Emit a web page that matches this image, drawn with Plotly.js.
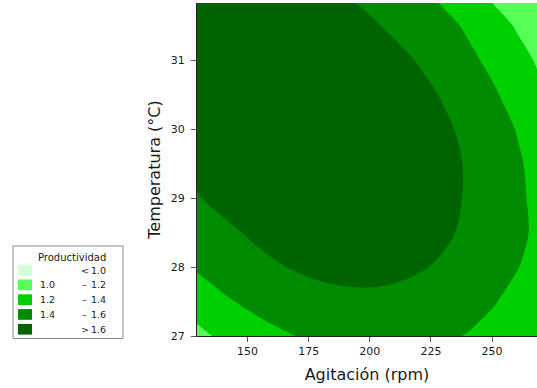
<!DOCTYPE html>
<html>
<head>
<meta charset="utf-8">
<script src="https://cdn.plot.ly/plotly-3.0.1.min.js"></script>
<style>
  html, body { margin: 0; padding: 0; background: #ffffff; }
  #chart { width: 537px; height: 388px; }
</style>
</head>
<body>
<div id="chart"></div>
<script>
// ---- Data ----
var agitacion = [129.3, 140, 150, 160, 170, 180, 190, 200, 210, 220, 230, 240, 250, 260, 270];
var temperatura = [27, 27.5, 28, 28.5, 29, 29.5, 30, 30.5, 31, 31.5, 32];
var productividad = [
  [1.151, 1.235, 1.302, 1.358, 1.402, 1.435, 1.456, 1.466, 1.465, 1.452, 1.428, 1.392, 1.345, 1.287, 1.217],
  [1.293, 1.371, 1.432, 1.482, 1.520, 1.547, 1.562, 1.566, 1.559, 1.540, 1.509, 1.468, 1.415, 1.350, 1.275],
  [1.420, 1.490, 1.540, 1.580, 1.614, 1.637, 1.649, 1.649, 1.637, 1.614, 1.580, 1.535, 1.478, 1.409, 1.329],
  [1.495, 1.560, 1.612, 1.654, 1.684, 1.703, 1.710, 1.706, 1.690, 1.663, 1.625, 1.575, 1.514, 1.442, 1.358],
  [1.589, 1.650, 1.695, 1.729, 1.751, 1.762, 1.761, 1.749, 1.726, 1.691, 1.645, 1.587, 1.518, 1.438, 1.346],
  [1.642, 1.697, 1.738, 1.767, 1.784, 1.790, 1.785, 1.768, 1.740, 1.700, 1.649, 1.587, 1.513, 1.428, 1.331],
  [1.675, 1.725, 1.760, 1.784, 1.796, 1.797, 1.787, 1.765, 1.731, 1.687, 1.631, 1.563, 1.484, 1.394, 1.292],
  [1.694, 1.738, 1.767, 1.784, 1.790, 1.785, 1.768, 1.740, 1.700, 1.649, 1.587, 1.513, 1.428, 1.331, 1.223],
  [1.684, 1.722, 1.745, 1.757, 1.758, 1.747, 1.725, 1.691, 1.646, 1.590, 1.522, 1.443, 1.360, 1.265, 1.170],
  [1.654, 1.686, 1.704, 1.710, 1.705, 1.689, 1.661, 1.622, 1.572, 1.510, 1.455, 1.375, 1.285, 1.185, 1.075],
  [1.622, 1.648, 1.660, 1.661, 1.651, 1.629, 1.596, 1.551, 1.495, 1.428, 1.349, 1.259, 1.157, 1.070, 0.990]
];
var contourLevels = [1.0, 1.2, 1.4, 1.6];
var xTicks = [150, 175, 200, 225, 250];
var yTicks = [27, 28, 29, 30, 31];
var legendTitle = 'Productividad';
var legendLow = ['', '1.0', '1.2', '1.4', ''];
var legendSym = ['<', '–', '–', '–', '>'];
var legendHigh = ['1.0', '1.2', '1.4', '1.6', '1.6'];

// ---- Styles ----
var bandColors = ['#d4ffd4', '#55ff55', '#00d000', '#008c00', '#006400'];
var FONT = 'DejaVu Sans, Verdana, sans-serif';
var TXT = '#1a1a1a';

var W = 537, H = 388;
var M = {l: 197, r: 0, t: 3, b: 52};
var plotW = W - M.l - M.r, plotH = H - M.t - M.b;
function px(x) { return (x - M.l) / plotW; }
function py(y) { return (H - M.b - y) / plotH; }

var cs = bandColors.map(function (c, i) { return [i / (bandColors.length - 1), c]; });

var trace = {
  type: 'contour',
  x: agitacion,
  y: temperatura,
  z: productividad,
  autocontour: false,
  contours: {
    start: contourLevels[0],
    end: contourLevels[contourLevels.length - 1],
    size: contourLevels[1] - contourLevels[0],
    coloring: 'fill',
    showlines: false
  },
  line: {width: 0, smoothing: 1},
  colorscale: cs,
  showscale: false,
  hoverinfo: 'skip'
};

// legend (Minitab style box)
var shapes = [];
var annotations = [];
shapes.push({type: 'rect', xref: 'paper', yref: 'paper',
  x0: px(13), x1: px(123), y0: py(338.5), y1: py(246),
  line: {color: '#8c8c8c', width: 1}, fillcolor: '#ffffff', layer: 'above'});
annotations.push({xref: 'paper', yref: 'paper', x: px(71.5), y: py(257),
  text: legendTitle, showarrow: false, xanchor: 'center', yanchor: 'middle',
  font: {family: FONT, size: 10, color: TXT}});
var rowFont = {family: FONT, size: 9.5, color: TXT};
for (var i = 0; i < legendSym.length; i++) {
  var rowTop = 264.7 + i * 14.8;
  var rowMid = rowTop + 5.35;
  shapes.push({type: 'rect', xref: 'paper', yref: 'paper',
    x0: px(18), x1: px(32), y0: py(rowTop + 10.7), y1: py(rowTop),
    line: {width: 0}, fillcolor: bandColors[i], layer: 'above'});
  if (legendLow[i]) {
    annotations.push({xref: 'paper', yref: 'paper', x: px(38), y: py(rowMid),
      text: legendLow[i], showarrow: false, xanchor: 'left', yanchor: 'middle',
      font: rowFont});
  }
  annotations.push({xref: 'paper', yref: 'paper', x: px(84.5), y: py(rowMid),
    text: legendSym[i], showarrow: false, xanchor: 'center', yanchor: 'middle',
    font: rowFont});
  annotations.push({xref: 'paper', yref: 'paper', x: px(107.5), y: py(rowMid),
    text: legendHigh[i], showarrow: false, xanchor: 'right', yanchor: 'middle',
    font: rowFont});
}

var layout = {
  width: W, height: H,
  margin: {l: M.l, r: M.r, t: M.t, b: M.b, pad: 0},
  paper_bgcolor: '#ffffff',
  plot_bgcolor: '#ffffff',
  showlegend: false,
  font: {family: FONT, color: TXT},
  xaxis: {
    range: [129.3, 268.4],
    tickvals: xTicks,
    ticktext: xTicks.map(String),
    ticks: 'outside', ticklen: 5, tickwidth: 1, tickcolor: '#555',
    showline: true, linecolor: '#222', linewidth: 1,
    showgrid: false, zeroline: false,
    tickfont: {family: FONT, size: 11, color: TXT},
    title: {text: 'Agitación (rpm)', font: {family: FONT, size: 16, color: TXT}, standoff: 11}
  },
  yaxis: {
    range: [27, 31.83],
    tickvals: yTicks,
    ticktext: yTicks.map(String),
    ticks: 'outside', ticklen: 5, tickwidth: 1, tickcolor: '#555',
    showline: true, linecolor: '#222', linewidth: 1,
    showgrid: false, zeroline: false,
    tickfont: {family: FONT, size: 11, color: TXT},
    ticklabelstandoff: 4,
    title: {text: 'Temperatura (°C)', font: {family: FONT, size: 16, color: TXT}, standoff: 6}
  },
  shapes: shapes,
  annotations: annotations
};

Plotly.newPlot('chart', [trace], layout, {staticPlot: true, displayModeBar: false});
</script>
</body>
</html>
